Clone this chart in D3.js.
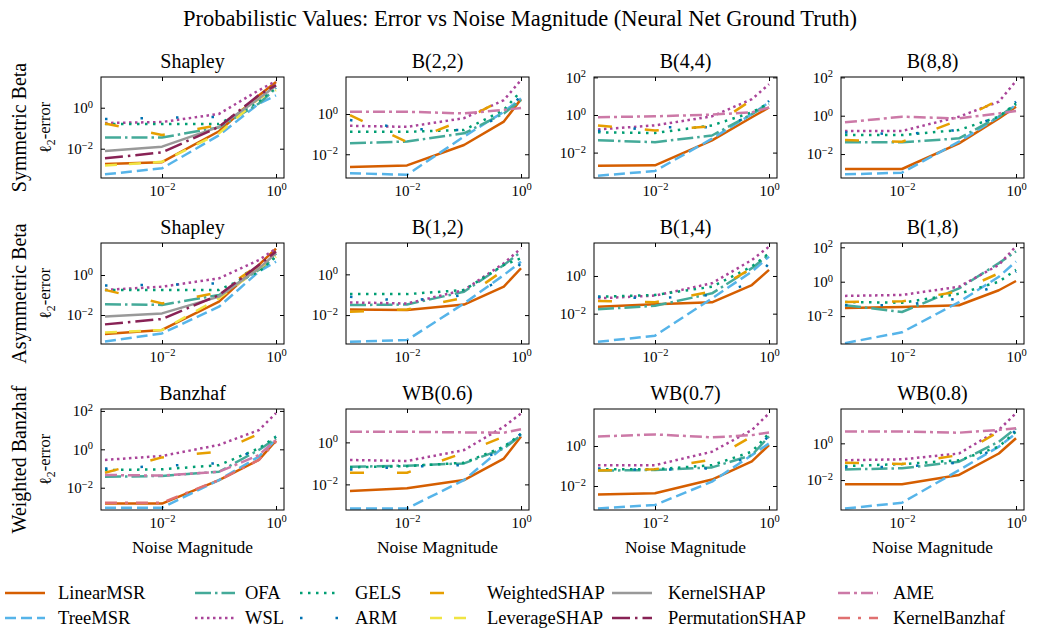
<!DOCTYPE html>
<html><head><meta charset="utf-8">
<script src="https://cdn.jsdelivr.net/npm/d3@7"></script>
<style>
body{margin:0;background:#fff}
text{font-family:"Liberation Serif","DejaVu Serif",serif;fill:#000}
</style>
</head><body><svg id="c" width="1041" height="633"></svg>
<script>
// ---------------- data ----------------
const xValues = [0.001, 0.01, 0.1, 0.5, 1];
const methods = ["LinearMSR","TreeMSR","OFA","WSL","GELS","ARM","WeightedSHAP","LeverageSHAP","KernelSHAP","PermutationSHAP","AME","KernelBanzhaf"];
const panelTitles = ["Shapley","B(2,2)","B(4,4)","B(8,8)","Shapley","B(1,2)","B(1,4)","B(1,8)","Banzhaf","WB(0.6)","WB(0.7)","WB(0.8)"];
const rowLabels = ["Symmetric Beta","Asymmetric Beta","Weighted Banzhaf"];
const xTickValues = [0.01, 1];

const symShapley = {
  LinearMSR:[1.8e-3,2.2e-3,7.1e-2,4.0,18], TreeMSR:[5.6e-4,1.1e-3,4.5e-2,1.6,4.0],
  OFA:[3.5e-2,3.5e-2,0.11,1.6,8.9], WSL:[0.18,0.2,0.5,7.1,20], GELS:[0.16,0.16,0.16,2.0,10.5],
  ARM:[0.28,0.32,0.36,2.3,9.5], WeightedSHAP:[0.17,0.047,0.14,2.8,10.5],
  LeverageSHAP:[1.5e-3,2.3e-3,5.6e-2,2.8,7.2], KernelSHAP:[7.8e-3,1.26e-2,0.117,2.8,11.7],
  PermutationSHAP:[3.4e-3,6.6e-3,0.117,4.2,12.6]
};
const symB22 = {
  LinearMSR:[2.3e-3,2.8e-3,2.9e-2,0.42,5.5], TreeMSR:[1.15e-3,9.5e-4,7.6e-2,1.3,6.0],
  OFA:[3.5e-2,4.3e-2,0.11,1.07,4.9], WSL:[0.26,0.23,0.62,4.9,49], GELS:[0.13,0.13,0.16,1.6,13.8],
  ARM:[0.5,0.18,0.16,0.74,8.7], WeightedSHAP:[0.89,0.04,0.52,5.5,12.6], AME:[1.3,1.3,1.07,1.6,2.0]
};
const symB44 = {
  LinearMSR:[2.0e-3,2.1e-3,4.5e-2,0.76,2.5], TreeMSR:[5.9e-4,1.05e-3,5.5e-2,1.12,4.7],
  OFA:[4.5e-2,3.6e-2,8.1e-2,1.12,3.8], WSL:[0.17,0.28,0.85,6.9,43], GELS:[0.12,0.11,0.28,1.38,4.3],
  ARM:[0.14,0.22,0.22,0.76,5.6], WeightedSHAP:[0.28,0.15,0.25,6.3,10], AME:[0.76,0.85,1.05,1.38,2.5]
};
const symB88 = {
  LinearMSR:[1.66e-3,1.66e-3,3.6e-2,0.72,2.95], TreeMSR:[8.7e-4,1.07e-3,4.4e-2,0.89,3.6],
  OFA:[4.1e-2,4.1e-2,6.6e-2,0.89,3.9], WSL:[0.16,0.16,0.89,5.4,65], GELS:[0.098,0.098,0.18,0.89,4.4],
  ARM:[0.135,0.107,0.18,0.89,5.4], WeightedSHAP:[0.054,0.044,0.59,6.6,12], AME:[0.45,0.89,0.72,1.32,1.74]
};
const asymShapley = {
  LinearMSR:[1.12e-3,1.78e-3,4.7e-2,3.2,21], TreeMSR:[4.7e-4,1.2e-3,2.6e-2,1.48,4.7],
  OFA:[3.4e-2,3.2e-2,0.1,1.78,8.3], WSL:[0.18,0.26,0.68,5.6,21], GELS:[0.18,0.18,0.18,1.48,8.3],
  ARM:[0.3,0.32,0.38,2.1,12], WeightedSHAP:[0.18,0.038,0.135,3.2,12],
  LeverageSHAP:[1.35e-3,1.78e-3,6.8e-2,2.1,8.3], KernelSHAP:[8.3e-3,1.2e-2,8.3e-2,2.1,12],
  PermutationSHAP:[3.4e-3,6.3e-3,0.1,3.2,14.8]
};
const asymB12 = {
  LinearMSR:[1.9e-2,1.78e-2,3.3e-2,0.25,2.0], TreeMSR:[4.9e-4,5.9e-4,3.7e-2,0.93,4.2],
  OFA:[3.1e-2,3.3e-2,0.14,2.9,12.9], WSL:[4.2e-2,3.7e-2,0.17,3.5,19], GELS:[0.107,0.107,0.17,2.9,6.2],
  ARM:[0.079,0.049,0.095,0.52,3.5], WeightedSHAP:[1.45e-2,1.9e-2,7.1e-2,1.6,5.0]
};
const asymB14 = {
  LinearMSR:[2.3e-2,3.2e-2,4.0e-2,0.33,2.1], TreeMSR:[3.2e-4,6.8e-4,6.5e-2,1.7,10.7],
  OFA:[1.7e-2,2.6e-2,0.12,2.6,14], WSL:[6.5e-2,9.1e-2,0.41,7.1,36], GELS:[7.9e-2,9.8e-2,0.27,3.2,15.8],
  ARM:[7.9e-2,6.5e-2,9.8e-2,0.41,4.7], WeightedSHAP:[4.7e-2,4.0e-2,0.15,2.6,8.7]
};
const asymB18 = {
  LinearMSR:[3.0e-2,3.4e-2,4.3e-2,0.32,1.1], TreeMSR:[2.7e-4,1.15e-3,6.6e-2,1.95,15],
  OFA:[4.3e-2,1.74e-2,0.41,12,58], WSL:[0.15,0.17,0.51,9.5,115], GELS:[6.6e-2,6.0e-2,0.2,1.0,4.9],
  ARM:[4.3e-2,4.3e-2,0.105,0.63,3.9], WeightedSHAP:[6.6e-2,7.2e-2,0.28,3.1,12]
};
const wbBanzhaf = {
  LinearMSR:[1.5e-3,1.5e-3,2.5e-2,0.28,2.8], TreeMSR:[9.1e-4,9.1e-4,2.5e-2,0.42,3.3],
  OFA:[3.7e-2,4.1e-2,6.8e-2,0.93,3.7], WSL:[0.28,0.45,1.7,10,76], GELS:[8.3e-2,9.1e-2,0.15,1.12,4.6],
  ARM:[0.1,0.135,0.19,0.93,4.6], WeightedSHAP:[6.0e-2,0.38,0.76,6.3,10],
  AME:[4.6e-2,4.3e-2,6.8e-2,0.5,3.1], KernelBanzhaf:[1.66e-3,1.66e-3,2.5e-2,0.28,2.5]
};
const wb06 = {
  LinearMSR:[4.8e-3,6.5e-3,1.6e-2,0.17,1.9], TreeMSR:[7.2e-4,7.2e-4,1.6e-2,0.62,2.2],
  OFA:[6.9e-2,7.8e-2,0.1,0.51,2.2], WSL:[0.145,0.13,0.43,5.6,24], GELS:[6.5e-2,7.4e-2,0.107,0.62,2.5],
  ARM:[5.1e-2,6.9e-2,8.3e-2,0.43,2.7], WeightedSHAP:[3.6e-2,3.6e-2,0.32,1.9,2.7], AME:[3.2,3.2,3.0,2.9,4.2]
};
const wb07 = {
  LinearMSR:[3.8e-3,4.3e-3,2.1e-2,0.17,1.12], TreeMSR:[7.6e-4,1.12e-3,1.66e-2,0.35,1.35],
  OFA:[5.9e-2,6.3e-2,8.5e-2,0.35,3.0], WSL:[0.11,0.11,0.52,6.3,43], GELS:[6.8e-2,6.8e-2,0.11,0.52,4.3],
  ARM:[7.6e-2,6.3e-2,7.6e-2,0.3,3.5], WeightedSHAP:[5.9e-2,6.8e-2,0.21,3.0,4.3], AME:[3.0,3.8,2.7,3.5,4.7]
};
const wb08 = {
  LinearMSR:[6.0e-3,6.0e-3,1.9e-2,0.28,1.9], TreeMSR:[2.8e-4,5.8e-4,3.5e-2,0.66,3.5],
  OFA:[3.8e-2,4.4e-2,0.1,1.23,6.6], WSL:[0.12,0.135,0.28,5.4,44], GELS:[5.8e-2,7.4e-2,0.12,0.66,4.4],
  ARM:[4.9e-2,5.4e-2,8.9e-2,0.54,5.4], WeightedSHAP:[8.9e-2,7.4e-2,0.23,4.4,6.6], AME:[4.4,4.4,3.8,5.4,6.6]
};
const panelData = [symShapley,symB22,symB44,symB88,asymShapley,asymB12,asymB14,asymB18,wbBanzhaf,wb06,wb07,wb08];

// ---------------- styles / layout ----------------
const styles = {
  LinearMSR:{c:"#D55E00",d:null},
  TreeMSR:{c:"#56B4E9",d:"11,5"},
  OFA:{c:"#44AA99",d:"16,4,2.5,4"},
  WSL:{c:"#AA4499",d:"2.5,3.5"},
  GELS:{c:"#009E73",d:"2.5,5.5"},
  ARM:{c:"#0072B2",d:"2.5,33"},
  WeightedSHAP:{c:"#E69F00",d:"14,33"},
  LeverageSHAP:{c:"#F0E442",d:"12,12"},
  KernelSHAP:{c:"#999999",d:null},
  PermutationSHAP:{c:"#882255",d:"18,5,2.5,5"},
  AME:{c:"#CC79A7",d:"12,4,3,4"},
  KernelBanzhaf:{c:"#E07070",d:"12,8,3,8"}
};
const colLeft = [101, 346, 594, 841], rowTop = [77, 243, 409];
const PW = 183, PH = 101;
const xDomainExp = [-3.07, 0.14];
const yDomainExp = [[-3.43,1.5],[-3.18,1.84],[-3.35,2.02],[-3.25,2.02],
                    [-3.45,1.6],[-3.42,1.54],[-3.61,1.75],[-3.62,2.25],
                    [-3.16,2.1],[-3.22,1.59],[-3.2,1.85],[-3.63,1.87]];
const F = "Liberation Serif";

const svg = d3.select("#c");
svg.append("rect").attr("width",1041).attr("height",633).attr("fill","#fff");

function supLabel(sel){
  sel.each(function(d){
    const t = d3.select(this); const e = Math.round(Math.log10(d));
    t.text(null);
    t.append("tspan").text("10");
    t.append("tspan").attr("dy","-0.5em").attr("font-size","70%").text(e<0 ? "\u2212"+(-e) : String(e));
  });
}

svg.append("text").attr("x",520).attr("y",26).attr("text-anchor","middle")
  .attr("font-size",22.5).text("Probabilistic Values: Error vs Noise Magnitude (Neural Net Ground Truth)");

panelData.forEach((data, i) => {
  const r = Math.floor(i/4), c = i%4;
  const g = svg.append("g").attr("transform",`translate(${colLeft[c]},${rowTop[r]})`);
  const x = d3.scaleLog().domain(xDomainExp.map(e=>10**e)).range([0,PW]);
  const yd = yDomainExp[i];
  const y = d3.scaleLog().domain([10**yd[0],10**yd[1]]).range([PH,0]);
  const yTicks = [-2,0,2].filter(e=>e>=yd[0]&&e<=yd[1]).map(e=>10**e);

  g.append("clipPath").attr("id","cp"+i).append("rect").attr("width",PW).attr("height",PH);
  const lg = g.append("g").attr("clip-path",`url(#cp${i})`);
  const line = d3.line().x((d,k)=>x(xValues[k])).y(d=>y(d));
  methods.forEach(m => {
    if(!data[m]) return;
    lg.append("path").attr("d",line(data[m])).attr("fill","none")
      .attr("stroke",styles[m].c).attr("stroke-width",2.5)
      .attr("stroke-dasharray",styles[m].d).attr("stroke-linejoin","round");
  });

  const axB = g.append("g").attr("transform",`translate(0,${PH})`)
    .call(d3.axisBottom(x).tickValues(xTickValues).tickSizeInner(-4).tickSizeOuter(0).tickPadding(7));
  axB.selectAll("text").attr("font-size",15).attr("font-family",F).call(supLabel);
  g.append("g").call(d3.axisTop(x).tickValues(xTickValues).tickSizeInner(-4).tickSizeOuter(0).tickFormat(""));
  const axL = g.append("g").call(d3.axisLeft(y).tickValues(yTicks).tickSizeInner(-4).tickSizeOuter(0).tickPadding(8));
  axL.selectAll("text").attr("font-size",15).attr("font-family",F).call(supLabel);
  g.append("g").attr("transform",`translate(${PW},0)`)
    .call(d3.axisRight(y).tickValues(yTicks).tickSizeInner(-4).tickSizeOuter(0).tickFormat(""));
  g.selectAll(".domain").remove();
  g.selectAll(".tick line").attr("stroke","#000");
  g.append("rect").attr("width",PW).attr("height",PH).attr("fill","none").attr("stroke","#000").attr("stroke-width",1);

  g.append("text").attr("x",PW/2).attr("y",-9).attr("text-anchor","middle").attr("font-size",20).text(panelTitles[i]);

  if(c===0){
    const yl = svg.append("text").attr("transform",`translate(51,${rowTop[r]+PH/2}) rotate(-90)`)
      .attr("text-anchor","middle").attr("font-size",16.5);
    yl.append("tspan").text("\u2113");
    yl.append("tspan").attr("dy","0.3em").attr("font-size","72%").text("2");
    yl.append("tspan").attr("dy","-0.3em").text("-error");
    svg.append("text").attr("transform",`translate(26,${rowTop[r]+PH/2}) rotate(-90)`)
      .attr("text-anchor","middle").attr("font-size",20).text(rowLabels[r]);
  }
  if(r===2){
    g.append("text").attr("x",PW/2).attr("y",PH+43).attr("text-anchor","middle").attr("font-size",17.5).text("Noise Magnitude");
  }
});

// legend
const legX = [5, 195, 300, 430, 612, 838], legTextX = [58, 245, 355, 487, 668, 893], legY = [593, 618];
methods.forEach((m,k) => {
  const col = Math.floor(k/2), row = k%2;
  svg.append("line").attr("x1",legX[col]).attr("x2",legX[col]+40).attr("y1",legY[row]).attr("y2",legY[row])
    .attr("stroke",styles[m].c).attr("stroke-width",2.5).attr("stroke-dasharray",styles[m].d);
  svg.append("text").attr("x",legTextX[col]).attr("y",legY[row]+6).attr("font-size",18.5).text(m);
});
</script></body></html>
